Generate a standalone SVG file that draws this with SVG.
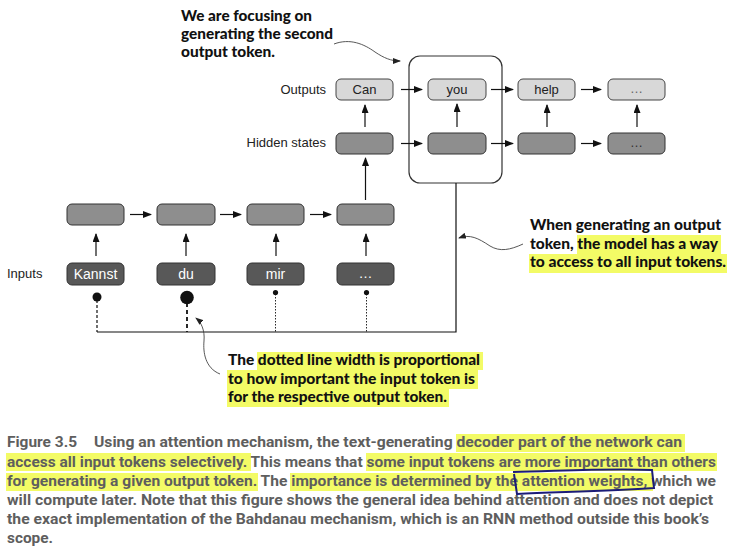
<svg xmlns="http://www.w3.org/2000/svg" width="736" height="553" viewBox="0 0 736 553">
<defs>
<marker id="ah" markerUnits="userSpaceOnUse" markerWidth="9" markerHeight="7" refX="8" refY="3.5" orient="auto">
<path d="M0,0 L9,3.5 L0,7 z" fill="#111"/>
</marker>
<marker id="ahs" markerUnits="userSpaceOnUse" markerWidth="8" markerHeight="6" refX="7" refY="3" orient="auto">
<path d="M0,0 L8,3 L0,6 z" fill="#222"/>
</marker>
<style>
.lbl{font-family:"Liberation Sans",Arial,sans-serif;font-size:13px;fill:#222}
.nt{font-family:"Liberation Sans",Arial,sans-serif;font-size:13px;text-anchor:middle}
.out rect{fill:#d8d8d8;stroke:#444;stroke-width:1}
.hid rect{fill:#8e8e8e;stroke:#333;stroke-width:1}
.inp rect{fill:#585858;stroke:#333;stroke-width:1}
.out text{fill:#222}
.hid text{fill:#333}
.inp text{fill:#fff;font-size:14px}
.ar{stroke:#111;stroke-width:1.2;fill:none;marker-end:url(#ah)}
.cv{stroke:#444;stroke-width:0.9;fill:none;marker-end:url(#ahs)}
.ann{font-family:Lato,"Open Sans",sans-serif;font-weight:900;font-size:15.5px;fill:#111}
.cap{font-family:Roboto,"Liberation Sans",sans-serif;font-weight:700;font-size:14px;fill:#5e5e5e}
.hl{fill:#f3fb66}
</style>
</defs>
<rect width="736" height="553" fill="#fff"/>

<!-- labels -->
<text class="lbl" x="326" y="94" text-anchor="end">Outputs</text>
<text class="lbl" x="326" y="147" text-anchor="end">Hidden states</text>
<text class="lbl" x="7" y="278">Inputs</text>

<!-- focus box -->
<rect id="focus" x="409" y="56" width="93" height="127" rx="11" fill="none" stroke="#333" stroke-width="1.2"/>

<!-- output nodes -->
<g id="out-can" class="out"><rect x="336" y="79" width="57" height="21" rx="5"/><text class="nt" x="364.5" y="94">Can</text></g>
<g id="out-you" class="out"><rect x="428" y="79" width="58" height="21" rx="5"/><text class="nt" x="457" y="94">you</text></g>
<g id="out-help" class="out"><rect x="518" y="79" width="57" height="21" rx="5"/><text class="nt" x="546.5" y="94">help</text></g>
<g id="out-dots" class="out"><rect x="608" y="79" width="57" height="21" rx="5"/><text class="nt" x="636.5" y="93" style="fill:#666">…</text></g>

<!-- decoder hidden -->
<g id="dec-h1" class="hid"><rect x="336" y="133" width="57" height="21" rx="5"/></g>
<g id="dec-h2" class="hid"><rect x="428" y="133" width="58" height="21" rx="5"/></g>
<g id="dec-h3" class="hid"><rect x="518" y="133" width="57" height="21" rx="5"/></g>
<g id="dec-h4" class="hid"><rect x="608" y="133" width="57" height="21" rx="5"/><text class="nt" x="636.5" y="147">…</text></g>

<!-- encoder hidden -->
<g id="enc-h1" class="hid"><rect x="67" y="204" width="57" height="21" rx="5"/></g>
<g id="enc-h2" class="hid"><rect x="157" y="204" width="58" height="21" rx="5"/></g>
<g id="enc-h3" class="hid"><rect x="247" y="204" width="57" height="21" rx="5"/></g>
<g id="enc-h4" class="hid"><rect x="337" y="204" width="57" height="21" rx="5"/></g>

<!-- inputs -->
<g id="in-kannst" class="inp"><rect x="67" y="263" width="57" height="22" rx="5"/><text class="nt" x="95.5" y="279">Kannst</text></g>
<g id="in-du" class="inp"><rect x="157" y="263" width="58" height="22" rx="5"/><text class="nt" x="186" y="279">du</text></g>
<g id="in-mir" class="inp"><rect x="247" y="263" width="57" height="22" rx="5"/><text class="nt" x="275.5" y="279">mir</text></g>
<g id="in-dots" class="inp"><rect x="337" y="263" width="57" height="22" rx="5"/><text class="nt" x="365.5" y="278">…</text></g>

<!-- connectors -->
<g id="connectors">
<line class="ar" x1="401" y1="89.5" x2="422" y2="89.5"/>
<line class="ar" x1="491" y1="89.5" x2="513" y2="89.5"/>
<line class="ar" x1="581" y1="89.5" x2="601" y2="89.5"/>
<line class="ar" x1="401" y1="143.5" x2="422" y2="143.5"/>
<line class="ar" x1="491" y1="143.5" x2="513" y2="143.5"/>
<line class="ar" x1="581" y1="143.5" x2="601" y2="143.5"/>
<line class="ar" x1="365" y1="127" x2="365" y2="105"/>
<line class="ar" x1="457" y1="127" x2="457" y2="104"/>
<line class="ar" x1="547" y1="127" x2="547" y2="105"/>
<line class="ar" x1="637" y1="127" x2="637" y2="105"/>
<line class="ar" x1="365.5" y1="200" x2="365.5" y2="158"/>
<line class="ar" x1="130" y1="214.5" x2="151" y2="214.5"/>
<line class="ar" x1="220" y1="214.5" x2="241" y2="214.5"/>
<line class="ar" x1="310" y1="214.5" x2="331" y2="214.5"/>
<line class="ar" x1="96" y1="256" x2="96" y2="234"/>
<line class="ar" x1="186" y1="256" x2="186" y2="234"/>
<line class="ar" x1="276" y1="256" x2="276" y2="234"/>
<line class="ar" x1="366" y1="256" x2="366" y2="234"/>
<!-- attention lines -->
<circle cx="97" cy="297" r="4.5" fill="#111"/>
<circle cx="187" cy="297.5" r="6.8" fill="#111"/>
<circle cx="275.5" cy="292.5" r="2.6" fill="#111"/>
<circle cx="366.5" cy="292.5" r="2.6" fill="#111"/>
<line x1="97" y1="300" x2="97" y2="332" stroke="#111" stroke-width="1.2" stroke-dasharray="3,2"/>
<line x1="187" y1="303" x2="187" y2="332" stroke="#111" stroke-width="1.8" stroke-dasharray="4,3"/>
<line x1="275.5" y1="294" x2="275.5" y2="332" stroke="#111" stroke-width="0.9" stroke-dasharray="1.5,1.5"/>
<line x1="366.5" y1="294" x2="366.5" y2="332" stroke="#111" stroke-width="0.9" stroke-dasharray="1.5,1.5"/>
<polyline points="97,332 456,332 456,183" fill="none" stroke="#111" stroke-width="1.2"/>
<!-- annotation arrows -->
<path class="cv" d="M334,44 C350,38 364,44 375,52 C384,58 391,61 400,61"/>
<path class="cv" d="M523,244 C510,250 500,252 490,246 C478,238 470,234 459,238"/>
<path class="cv" d="M220,374 C205,368 203,352 204,341 C205,330 201,322 196,318"/>
</g>

<!-- annotation texts -->
<g id="ann-focus">
<text class="ann" x="181" y="21" textLength="131" lengthAdjust="spacingAndGlyphs">We are focusing on</text>
<text class="ann" x="181" y="39" textLength="152" lengthAdjust="spacingAndGlyphs">generating the second</text>
<text class="ann" x="181" y="57" textLength="94" lengthAdjust="spacingAndGlyphs">output token.</text>
</g>
<g id="ann-access">
<rect class="hl" x="577" y="235" width="144" height="19"/>
<rect class="hl" x="529" y="254" width="198" height="19"/>
<text class="ann" x="530" y="230" textLength="191" lengthAdjust="spacingAndGlyphs">When generating an output</text>
<text class="ann" x="530" y="249" textLength="188" lengthAdjust="spacingAndGlyphs">token, the model has a way</text>
<text class="ann" x="530" y="267" textLength="196" lengthAdjust="spacingAndGlyphs">to access to all input tokens.</text>
</g>
<g id="ann-width">
<rect class="hl" x="257" y="352" width="226" height="18"/>
<rect class="hl" x="227" y="370" width="251" height="19"/>
<rect class="hl" x="227" y="389" width="222" height="18"/>
<text class="ann" x="228" y="365" textLength="252" lengthAdjust="spacingAndGlyphs">The dotted line width is proportional</text>
<text class="ann" x="228" y="384" textLength="247" lengthAdjust="spacingAndGlyphs">to how important the input token is</text>
<text class="ann" x="228" y="402" textLength="219" lengthAdjust="spacingAndGlyphs">for the respective output token.</text>
</g>

<!-- caption -->
<g id="caption">
<rect class="hl" x="456" y="434" width="229" height="18"/>
<rect class="hl" x="6" y="453" width="245" height="18"/>
<rect class="hl" x="366" y="453" width="351" height="18"/>
<rect class="hl" x="6" y="473" width="252" height="18"/>
<rect class="hl" x="290" y="473" width="363" height="18"/>
<text class="cap" x="7" y="447" textLength="70" lengthAdjust="spacingAndGlyphs">Figure 3.5</text>
<text class="cap" x="94" y="447" textLength="588" lengthAdjust="spacingAndGlyphs">Using an attention mechanism, the text-generating decoder part of the network can</text>
<text class="cap" x="7" y="466.5" textLength="709" lengthAdjust="spacingAndGlyphs">access all input tokens selectively. This means that some input tokens are more important than others</text>
<text class="cap" x="7" y="486" textLength="709" lengthAdjust="spacingAndGlyphs">for generating a given output token. The importance is determined by the attention weights, which we</text>
<text class="cap" x="7" y="505" textLength="706" lengthAdjust="spacingAndGlyphs">will compute later. Note that this figure shows the general idea behind attention and does not depict</text>
<text class="cap" x="7" y="524" textLength="702" lengthAdjust="spacingAndGlyphs">the exact implementation of the Bahdanau mechanism, which is an RNN method outside this book’s</text>
<text class="cap" x="7" y="543" textLength="46" lengthAdjust="spacingAndGlyphs">scope.</text>
<path d="M513,472 C560,471 610,468 652,470 L654,488 C610,491 560,492 517,494 L514,474" fill="none" stroke="#1c1c78" stroke-width="2"/>
</g>
</svg>
